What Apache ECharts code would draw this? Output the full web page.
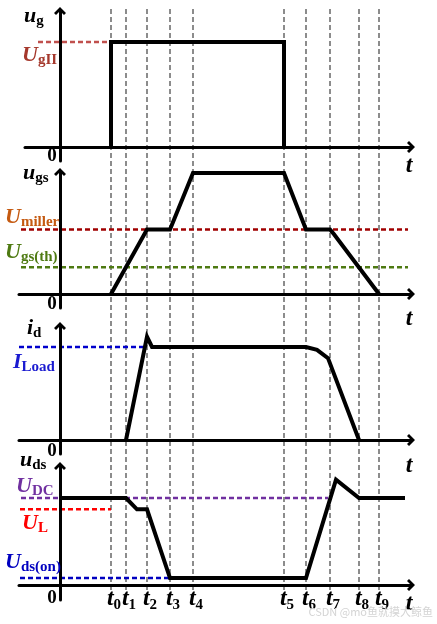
<!DOCTYPE html>
<html><head><meta charset="utf-8">
<script src="https://cdn.jsdelivr.net/npm/echarts@6/dist/echarts.min.js"></script>
<style>html,body{margin:0;padding:0;background:#fff}#c{width:437px;height:624px}</style>
</head><body><div id="c"></div>
<script>
// ---- data ----
const tNames = ['0','1','2','3','4','5','6','7','8','9'];
const tTimes = [51,66,87,110,133,224,246,270,299,319];

const ugT  = [51,51,224,224];
const ugV  = [0,15,15,0];
const ugsT = [51,87,110,133,224,246,270,274,319];
const ugsV = [0,8,8,15,15,8,8,7.4,0];
const idT  = [66,87,92,246,257,268,299];
const idV  = [0,11.1,10,10,9.7,8.8,0];
const udsT = [0,66,77,87,110,246,276,299,345];
const udsV = [10,10,8.7,8.7,0.8,0.8,12.1,10,10];

// reference levels: [panel, value, fromT, toT]
const levelNames = ['UgII','Umiller','Ugsth','ILoad','UDC','UL','Udson'];
const levelPanel = [0,1,1,2,3,3,3];
const levelValue = [15,8,3.3,10,10,8.7,0.8];
const levelFrom  = [-22,-39,-39,-41,-39,-40,-40];
const levelTo    = [51,348,348,87,268,51,110];
const levelColor = ['#c0504d','#a00000','#4e7a12','#0000cc','#7030a0','#ff0000','#0000c0'];

// ---- layout ----
const FF = '"Liberation Serif","Times New Roman",serif';
const Y0 = 60, XEND = 411;
const panels = [
  {zero:147, ppu:7,    top:11,  bot:161, left:25},
  {zero:294, ppu:8.07, top:172, bot:308, left:19},
  {zero:440, ppu:9.3,  top:326, bot:454, left:19},
  {zero:585, ppu:8.7,  top:466, bot:600, left:19}
];
const arrow = 'path://M12,0 L24,12 L20,16 L12,8 L4,16 L0,12 Z';

const grid = [], xAxis = [], yAxis = [], series = [];
panels.forEach((p, i) => {
  grid.push({left:p.left, width:XEND-p.left, top:p.top, height:p.bot-p.top, outerBoundsMode:'none'});
  const axisLine = {show:true, onZero:true, symbol:['none', arrow], symbolSize:[12,8],
                    lineStyle:{color:'#000', width:3}};
  xAxis.push({type:'value', gridIndex:i, min:p.left-Y0, max:XEND-Y0, axisLine:axisLine,
              axisTick:{show:false}, axisLabel:{show:false}, splitLine:{show:false}, z:3});
  yAxis.push({type:'value', gridIndex:i, min:-(p.bot-p.zero)/p.ppu, max:(p.zero-p.top)/p.ppu,
              axisLine:axisLine, axisTick:{show:false}, axisLabel:{show:false}, splitLine:{show:false}, z:3});
});
// full-height grid for the time markers
grid.push({left:19, width:XEND-19, top:8, height:582, outerBoundsMode:'none'});
xAxis.push({type:'value', gridIndex:4, min:19-Y0, max:XEND-Y0, show:false});
yAxis.push({type:'value', gridIndex:4, min:0, max:1, show:false});

tTimes.forEach(t => {
  series.push({type:'line', xAxisIndex:4, yAxisIndex:4, data:[[t,0],[t,1]], showSymbol:false, silent:true, z:1,
    lineStyle:{color:'#8c8c8c', width:2, type:[5,3]}});
});
levelNames.forEach((n, k) => {
  const pi = levelPanel[k];
  series.push({type:'line', name:n, xAxisIndex:pi, yAxisIndex:pi, showSymbol:false, silent:true, z:2,
    data:[[levelFrom[k], levelValue[k]], [levelTo[k], levelValue[k]]],
    lineStyle:{color:levelColor[k], width:2.5, type:[5,3]}});
});
const zip = (a, b) => a.map((v, i) => [v, b[i]]);
[[ugT,ugV],[ugsT,ugsV],[idT,idV],[udsT,udsV]].forEach((d, i) => {
  series.push({type:'line', xAxisIndex:i, yAxisIndex:i, data:zip(d[0], d[1]), showSymbol:false, silent:true, z:5,
    lineStyle:{color:'#000', width:4, join:'miter', cap:'butt'}});
});

// ---- text ----
function lab(x, y, main, sub, color, mainSize, subSize, italic) {
  return {type:'text', z:10, style:{x:x, y:y, align:'left', verticalAlign:'middle',
    text:'{m|' + main + '}' + (sub ? '{s|' + sub + '}' : ''),
    rich:{
      m:{fontFamily:FF, fontStyle: italic === false ? 'normal' : 'italic', fontWeight:'bold', fontSize:mainSize||22, fill:color, verticalAlign:'bottom', padding:[0,0,2,0]},
      s:{fontFamily:FF, fontWeight:'bold', fontSize:subSize||15, fill:color, verticalAlign:'bottom'}
    }}};
}
function plain(x, y, txt, size, italic, align) {
  return {type:'text', z:10, style:{x:x, y:y, align:align||'center', verticalAlign:'middle', text:txt,
    fontFamily:FF, fontWeight:'bold', fontStyle: italic ? 'italic' : 'normal', fontSize:size, fill:'#000'}};
}
const graphic = [
  lab(24, 17, 'u', 'g', '#000', 22),
  lab(22, 56, 'U', 'gII', '#a5382c', 22),
  lab(23, 174, 'u', 'gs', '#000', 22),
  lab(5, 218, 'U', 'miller', '#c55a11', 22),
  lab(5, 253, 'U', 'gs(th)', '#4e7a12', 22),
  lab(27, 329, 'i', 'd', '#000', 22),
  lab(13, 363, 'I', 'Load', '#1a1ad0', 22),
  lab(20, 461, 'u', 'ds', '#000', 22),
  lab(16, 487, 'U', 'DC', '#7030a0', 22),
  lab(22, 524, 'U', 'L', '#ff0000', 22),
  lab(5, 563, 'U', 'ds(on)', '#0000c0', 22)
];
panels.forEach((p, i) => {
  graphic.push(plain(52, [156,304,451,598][i], '0', 19, false));
  graphic.push(plain(409, [166,319,466,604][i], 't', 24, true));
});
tTimes.forEach((t, i) => {
  const g = lab(0, 600, 't', tNames[i], '#000', 24, 15);
  g.style.x = Y0 + t + 3; g.style.align = 'center';
  graphic.push(g);
});
graphic.push({type:'text', z:10, style:{x:433, y:612, align:'right', verticalAlign:'middle',
  text:'CSDN @mo鱼就摸大鲸鱼', fontFamily:'"Noto Sans CJK SC","Noto Sans",sans-serif', fontSize:11, fill:'#d4d4d4'}});

const chart = echarts.init(document.getElementById('c'), null, {renderer:'canvas'});
chart.setOption({animation:false, backgroundColor:'#fff', grid, xAxis, yAxis, series, graphic});
</script></body></html>
